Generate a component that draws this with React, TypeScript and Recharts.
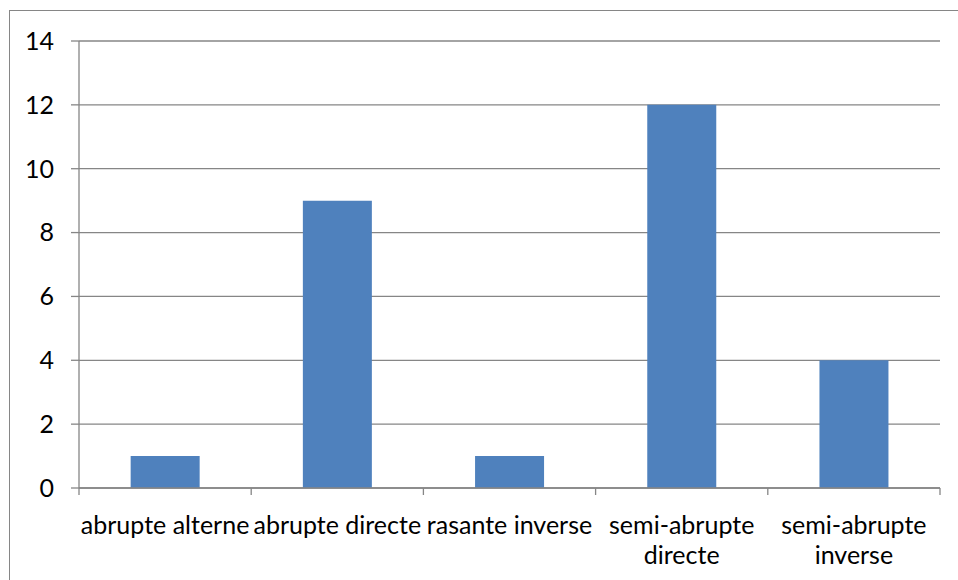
import { BarChart, Bar, XAxis, YAxis, CartesianGrid } from 'recharts';

const categories = [
  'abrupte alterne',
  'abrupte directe',
  'rasante inverse',
  'semi-abrupte directe',
  'semi-abrupte inverse',
];
const counts = [1, 9, 1, 12, 4];
const tickLines = [
  ['abrupte alterne'],
  ['abrupte directe'],
  ['rasante inverse'],
  ['semi-abrupte', 'directe'],
  ['semi-abrupte', 'inverse'],
];
const yTicks = [0, 2, 4, 6, 8, 10, 12, 14];

const data = categories.map((name, i) => ({ name, value: counts[i] }));

const FONT = 'Lato, "Open Sans", sans-serif';
const GRID = '#868686';
const FS = 25;

function CategoryTick(props: {
  x?: number;
  y?: number;
  index?: number;
  payload?: { offset?: number; coordinate?: number };
}) {
  const { x = 0, y = 0, index = 0, payload } = props;
  const half = payload?.offset || 86.1;
  const lines = tickLines[index] ?? [];
  const axisY = y;
  return (
    <g>
      <line x1={x - half} x2={x - half} y1={axisY} y2={axisY + 7} stroke={GRID} strokeWidth={1.3} />
      {index === tickLines.length - 1 && (
        <line x1={x + half} x2={x + half} y1={axisY} y2={axisY + 7} stroke={GRID} strokeWidth={1.3} />
      )}
      <text x={x} y={axisY} textAnchor="middle" fontFamily={FONT} fontSize={FS} fill="#000">
        {lines.map((l, i) => (
          <tspan key={i} x={x} dy={i === 0 ? 46 : 30}>
            {l}
          </tspan>
        ))}
      </text>
    </g>
  );
}

export default function App() {
  return (
    <div
      style={{
        position: 'fixed',
        left: 0,
        top: 0,
        width: 958,
        height: 580,
        background: '#fff',
        overflow: 'hidden',
      }}
    >
      <div
        style={{
          position: 'absolute',
          left: 9,
          top: 10,
          width: 1100,
          height: 800,
          border: `1px solid ${GRID}`,
        }}
      />
      <div style={{ position: 'absolute', left: 0, top: 0 }}>
        <BarChart
          width={958}
          height={580}
          data={data}
          margin={{ top: 41, right: 18, bottom: 32, left: 0 }}
          barCategoryGap="30%"
        >
          <CartesianGrid horizontal vertical={false} stroke={GRID} strokeWidth={1.3} />
          <YAxis
            width={79}
            domain={[0, 14]}
            ticks={yTicks}
            interval={0}
            axisLine={{ stroke: GRID, strokeWidth: 1.3 }}
            tickLine={{ stroke: GRID, strokeWidth: 1.3 }}
            tickSize={8}
            tickMargin={17}
            tick={{ fontFamily: FONT, fontSize: FS, fill: '#000' }}
          />
          <XAxis
            dataKey="name"
            height={60}
            interval={0}
            axisLine={{ stroke: GRID, strokeWidth: 1.3 }}
            tickLine={false}
            tickSize={0}
            tickMargin={0}
            tick={<CategoryTick />}
          />
          <Bar dataKey="value" fill="#4F81BD" isAnimationActive={false} />
        </BarChart>
      </div>
    </div>
  );
}
